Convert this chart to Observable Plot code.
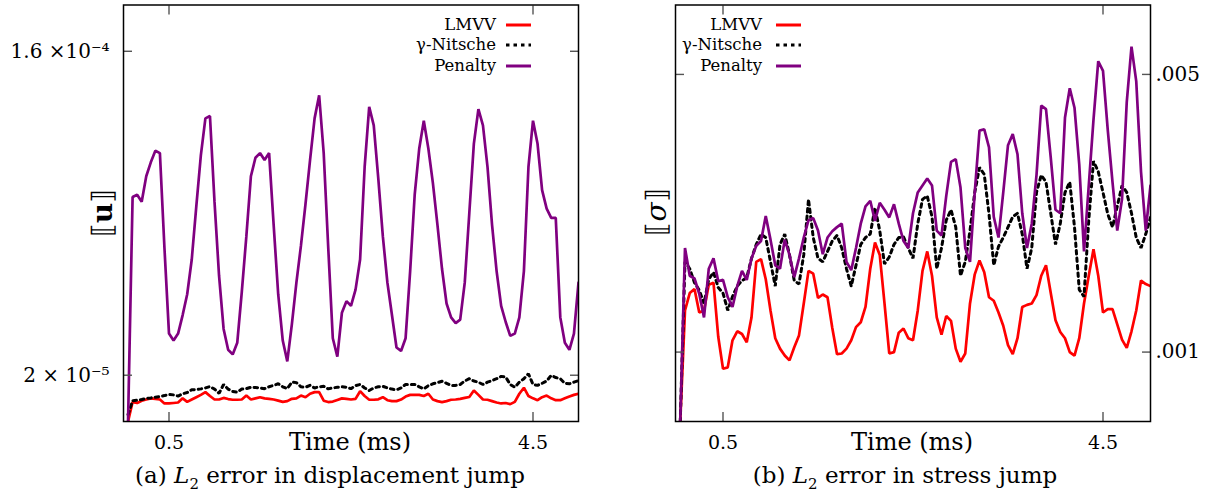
<!DOCTYPE html>
<html><head><meta charset="utf-8">
<script src="https://cdn.jsdelivr.net/npm/d3@7"></script>
<script src="https://cdn.jsdelivr.net/npm/@observablehq/plot@0.6"></script>
<style>
body{margin:0;background:#fff;}
#wrap{position:relative;width:1205px;height:497px;font-family:"DejaVu Serif",serif;color:#000;overflow:hidden}
.abs{position:absolute;white-space:nowrap}
svg.plot{position:absolute;top:0}
</style></head><body><div id="wrap"></div>
<script>
// time (ms)
const time = [0.05,0.1,0.15,0.2,0.25,0.3,0.35,0.4,0.45,0.5,
0.55,0.6,0.65,0.7,0.75,0.8,0.85,0.9,0.95,1.0,
1.05,1.1,1.15,1.2,1.25,1.3,1.35,1.4,1.45,1.5,
1.55,1.6,1.65,1.7,1.75,1.8,1.85,1.9,1.95,2.0,
2.05,2.1,2.15,2.2,2.25,2.3,2.35,2.4,2.45,2.5,
2.55,2.6,2.65,2.7,2.75,2.8,2.85,2.9,2.95,3.0,
3.05,3.1,3.15,3.2,3.25,3.3,3.35,3.4,3.45,3.5,
3.55,3.6,3.65,3.7,3.75,3.8,3.85,3.9,3.95,4.0,
4.05,4.1,4.15,4.2,4.25,4.3,4.35,4.4,4.45,4.5,
4.55,4.6,4.65,4.7,4.75,4.8,4.85,4.9,4.95,5.0];

const seriesNames = ["LMVV", "γ-Nitsche", "Penalty"];
const seriesColors = ["#ff0000", "#000000", "#800080"];

// (a) displacement jump error, units of 1e-5
const lmvvU = [0,0.84,0.8,0.9,0.95,1.0,0.98,0.95,0.78,0.78,
0.8,0.82,1.0,0.85,0.95,1.05,1.15,1.27,1.1,0.95,
0.95,1.02,0.97,0.94,0.94,0.95,1.12,0.95,1.0,1.05,
1.0,0.98,0.95,0.9,0.85,0.88,0.98,1.0,1.12,1.05,
1.2,1.27,1.27,0.9,0.84,0.86,0.93,1.0,0.98,0.95,
0.98,1.31,1.1,0.94,0.94,0.96,1.05,0.92,0.88,0.88,
0.95,1.08,1.15,1.15,1.15,1.1,1.2,0.95,0.88,0.84,
0.88,0.94,0.95,0.98,1.02,1.06,1.34,1.15,0.95,0.94,
0.88,0.82,0.78,0.8,0.75,0.85,1.2,1.46,1.1,1.0,
0.92,1.05,1.12,1.0,0.92,0.92,1.0,1.08,1.15,1.2];
const nitscheU = [0.3,0.9,0.92,0.95,1.0,1.02,1.05,1.08,1.12,1.17,
1.15,1.1,1.2,1.25,1.37,1.38,1.41,1.45,1.51,1.4,
1.22,1.6,1.4,1.3,1.27,1.4,1.42,1.48,1.47,1.45,
1.42,1.5,1.56,1.63,1.5,1.42,1.7,1.68,1.5,1.48,
1.56,1.45,1.5,1.52,1.41,1.45,1.48,1.5,1.48,1.42,
1.55,1.6,1.45,1.34,1.45,1.5,1.52,1.45,1.4,1.37,
1.45,1.6,1.6,1.6,1.5,1.41,1.55,1.63,1.68,1.74,
1.65,1.56,1.56,1.6,1.75,1.85,1.75,1.7,1.6,1.7,
1.77,1.85,1.95,1.92,1.6,1.48,1.7,1.85,2.06,1.6,
1.56,1.65,1.75,1.99,1.9,1.85,1.65,1.63,1.7,1.77];
const penaltyU = [0,9.7,9.8,9.5,10.6,11.2,11.7,11.6,7.5,3.8,
3.5,3.8,4.6,5.5,7.0,9.3,11.5,13.1,13.2,9.5,
6.3,4.0,3.1,2.9,3.4,5.6,8.0,10.6,11.4,11.6,
11.3,11.6,8.5,5.5,3.5,2.6,4.2,6.0,7.6,9.4,
11.3,13.1,14.1,11.6,7.5,3.6,2.8,4.7,5.2,5.0,
5.7,7.0,11.0,13.6,12.8,10.5,8.0,6.0,4.6,3.2,
3.05,3.6,6.5,9.8,11.8,13.0,11.8,10.3,8.5,6.6,
5.1,4.5,4.25,4.4,6.0,9.0,12.0,13.5,12.8,11.0,
8.5,6.5,5.0,4.3,3.7,3.8,4.5,6.5,11.0,13.0,
12.0,10.0,9.2,8.8,8.8,4.5,3.4,3.1,3.8,6.0];

// (b) stress jump error, units of 1e-3
const lmvvS = [0,1.6,1.85,1.91,1.57,1.6,1.97,2.0,1.22,0.76,
0.78,1.17,1.3,1.26,1.14,1.5,2.3,2.34,2.05,1.6,
1.2,1.05,0.95,0.88,1.07,1.24,1.7,2.17,2.13,1.78,
1.83,1.79,1.35,0.97,0.98,1.05,1.17,1.36,1.43,1.65,
2.2,2.58,2.4,1.7,0.98,1.0,1.28,1.34,1.2,1.17,
1.6,2.17,2.45,2.1,1.5,1.25,1.52,1.45,1.05,0.86,
0.98,1.7,2.12,2.32,2.15,1.79,1.74,1.57,1.38,1.1,
0.97,1.2,1.65,1.68,1.7,1.82,2.1,2.25,1.85,1.46,
1.29,1.2,1.0,0.95,1.2,1.7,2.1,2.48,2.1,1.57,
1.62,1.62,1.4,1.18,1.06,1.3,1.6,2.03,1.98,1.95];
const nitscheS = [0,2.3,2.2,2.0,1.89,1.7,2.05,2.15,1.93,1.85,
1.6,1.8,1.95,2.03,2.07,2.35,2.55,2.7,2.65,2.3,
1.95,2.55,2.7,2.4,2.03,1.98,2.4,3.2,2.65,2.35,
2.3,2.45,2.6,2.68,2.5,2.2,1.95,2.25,2.55,2.65,
2.7,3.08,2.75,2.27,2.37,2.55,2.65,2.66,2.5,2.35,
2.85,3.2,3.25,2.95,2.2,2.5,2.9,3.05,2.8,2.1,
2.3,2.75,3.3,3.66,3.56,2.99,2.25,2.52,2.65,2.8,
2.95,3.0,2.7,2.2,2.5,3.3,3.55,3.45,3.0,2.55,
2.85,3.3,3.45,2.8,1.9,1.8,2.9,3.75,3.6,3.3,
2.99,2.8,3.1,3.4,3.3,3.0,2.65,2.5,2.7,2.94];
const penaltyS = [0,2.5,2.1,2.06,1.84,1.5,2.2,2.35,2.02,2.04,
1.79,1.65,1.95,2.17,2.04,2.35,2.53,2.6,2.96,2.62,
2.25,2.2,2.62,2.4,2.08,2.35,2.65,2.9,2.93,2.75,
2.41,2.65,2.74,2.8,2.85,2.3,2.18,2.5,2.85,3.1,
3.18,2.89,3.15,3.05,2.94,3.13,2.85,2.6,2.5,3.0,
3.3,3.4,3.5,3.4,2.75,2.68,3.25,3.74,3.78,3.37,
2.5,2.3,3.3,4.19,4.21,3.95,2.95,2.65,3.3,3.98,
4.14,3.85,3.0,2.5,2.85,3.55,4.55,4.5,3.8,3.05,
3.0,4.38,4.8,4.52,3.7,2.45,3.4,4.35,5.19,5.05,
4.2,3.45,2.75,3.2,4.6,5.4,4.9,3.6,2.75,3.4];

const xTicks = [0.5, 4.5];
const xTickLabels = ["0.5", "4.5"];
const yTicksU = [2, 16];
const yTickLabelsU = ["2 × 10⁻⁵", "1.6 ×10⁻⁴"];
const yTicksS = [1, 5];
const yTickLabelsS = [".001", ".005"];

const dash = "3.5,4";
const lw = 2.7;

function panel({width, marginLeft, marginRight, yDomain, yTicks, yLabels, yAnchor, series}) {
  const tickStyle = {tickFormat: () => "", stroke: "#555", strokeWidth: 1.4, label: null};
  const fmt = (ticks, labels) => d => labels[ticks.indexOf(d)];
  return Plot.plot({
    width, height: 470,
    marginLeft, marginRight, marginTop: 4.5, marginBottom: 49,
    x: {domain: [0, 5]},
    y: {domain: yDomain},
    style: {fontFamily: "DejaVu Serif", fontSize: "19px", background: "transparent", color: "black"},
    marks: [
      ...series.map((vals, i) => Plot.lineY(vals, {
        x: time, stroke: seriesColors[i], strokeWidth: i === 1 ? 3 : lw,
        strokeDasharray: i === 1 ? dash : null, clip: true, strokeLinejoin: "miter"
      })),
      Plot.axisX(xTicks, {anchor: "bottom", tickSize: 0, tickPadding: 14, fontSize: 19,
        tickFormat: fmt(xTicks, xTickLabels), label: null}),
      Plot.axisX(xTicks, {anchor: "bottom", tickSize: -9, ...tickStyle}),
      Plot.axisX(xTicks, {anchor: "top", tickSize: -9, ...tickStyle}),
      Plot.axisY(yTicks, {anchor: yAnchor, tickSize: 0, tickPadding: yAnchor === "left" ? 14 : 5, fontSize: 20,
        tickFormat: fmt(yTicks, yLabels), label: null}),
      Plot.axisY(yTicks, {anchor: "left", tickSize: -9, ...tickStyle}),
      Plot.axisY(yTicks, {anchor: "right", tickSize: -9, ...tickStyle}),
      Plot.frame({stroke: "black", strokeWidth: 1.5})
    ]
  });
}

const wrap = document.getElementById("wrap");

const left = panel({width: 600, marginLeft: 123, marginRight: 22, yDomain: [0, 18],
  yTicks: yTicksU, yLabels: yTickLabelsU, yAnchor: "left", series: [lmvvU, nitscheU, penaltyU]});
left.classList.add("plot"); left.style.left = "0px";
wrap.appendChild(left);

const right = panel({width: 605, marginLeft: 75, marginRight: 55, yDomain: [0, 6],
  yTicks: yTicksS, yLabels: yTickLabelsS, yAnchor: "right", series: [lmvvS, nitscheS, penaltyS]});
right.classList.add("plot"); right.style.left = "600px";
wrap.appendChild(right);

function addText(html, x, y, size, extra = "") {
  const d = document.createElement("div");
  d.className = "abs";
  d.innerHTML = html;
  d.style.cssText += `left:${x}px;top:${y}px;font-size:${size}px;line-height:1;transform:translate(-50%,-50%) ${extra};`;
  wrap.appendChild(d);
  return d;
}

// axis titles
addText("Time (ms)", 350, 442, 24);
addText("Time (ms)", 912, 442, 24);
addText("⟦<b>u</b>⟧", 103, 213, 28, "rotate(-90deg)");
addText("⟦<i>σ</i>⟧", 657, 212, 28, "rotate(-90deg)");

// captions
addText("(a) <i>L</i><sub style='font-size:65%'>2</sub> error in displacement jump", 330, 478, 23);
addText("(b) <i>L</i><sub style='font-size:65%'>2</sub> error in stress jump", 905, 478, 23);

// legends
function legend(textRight, lineX, ys) {
  seriesNames.forEach((name, i) => {
    const t = document.createElement("div");
    t.className = "abs";
    t.style.cssText = `right:${1205 - textRight}px;top:${ys[i] - 10}px;font-size:16.5px;line-height:20px;`;
    t.textContent = name;
    wrap.appendChild(t);
    const s = document.createElementNS("http://www.w3.org/2000/svg", "svg");
    s.setAttribute("width", 26); s.setAttribute("height", 6);
    s.style.cssText = `position:absolute;left:${lineX}px;top:${ys[i] - 3}px;`;
    s.innerHTML = `<line x1="0" y1="3" x2="25" y2="3" stroke="${seriesColors[i]}" stroke-width="3" ${i === 1 ? `stroke-dasharray="${dash}"` : ""}/>`;
    wrap.appendChild(s);
  });
}
legend(496, 506, [24.5, 45, 66]);
legend(762, 776, [24.5, 45, 66]);
</script></body></html>
